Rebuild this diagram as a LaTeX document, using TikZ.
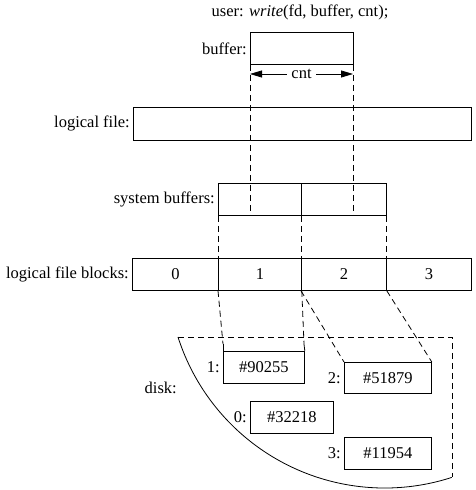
\documentclass[tikz,border=0pt]{standalone}
\usepackage{fontspec}
\setmainfont{Liberation Serif}
\usetikzlibrary{positioning,arrows.meta}

\tikzset{
  box/.style={draw, line width=0.8pt, inner sep=0pt, anchor=north west, minimum height=32pt},
  guide/.style={line width=0.8pt, dash pattern=on 6pt off 4pt},
  tag/.style={inner sep=3pt}
}

\begin{document}
\begin{tikzpicture}[x=1pt, y=1pt, >={Stealth[length=12pt,width=7pt,inset=0pt]},
    font=\fontsize{16.5}{19}\selectfont]
  \useasboundingbox (0,0) rectangle (475,490);

  % the call
  \node (call) at (300,478) {user: \textit{write}(fd, buffer, cnt);};

  % user buffer
  \node[box, minimum width=103pt] (buf) at (250,458) {};
  \node[tag, left=0pt of buf] (buflbl) {buffer:};
  \draw[<->, line width=0.8pt] (250,416) -- node[fill=white, inner sep=4pt] (cnt) {cnt} (353,416);

  % logical file
  \node[box, minimum width=338pt, minimum height=33pt] (lfile) at (133,383) {};
  \node[tag, left=0pt of lfile] (lfilelbl) {logical file:};

  % system buffers
  \node[box, minimum width=83pt] (sb1) at (218,307) {};
  \node[box, minimum width=85pt] (sb2) at (301,307) {};
  \node[tag, left=0pt of sb1] (sblbl) {system buffers:};

  % logical file blocks
  \node[box, minimum width=86pt] (b0) at (132,232) {0};
  \node[box, minimum width=83pt] (b1) at (218,232) {1};
  \node[box, minimum width=85pt] (b2) at (301,232) {2};
  \node[box, minimum width=85pt] (b3) at (386,232) {3};
  \node[tag, left=0pt of b0] (blklbl) {logical file blocks:};

  \draw[guide] (buf.south west) -- (buf.south west |- sb1.south);
  \draw[guide] (buf.south east) -- (buf.south east |- sb1.south);
  \draw[guide] (sb1.south west) -- (b1.north west);
  \draw[guide] (sb1.south east) -- (b1.north east);
  \draw[guide] (sb2.south east) -- (b2.north east);

  % disk
  \coordinate (dtl) at (178,153);
  \coordinate (dtr) at (452,153);
  \coordinate (dbr) at (452,13);
  \draw[guide] (dtl) -- (dtr) -- (dbr);
  \draw[line width=0.8pt] (dtl) arc[start angle=197.7, end angle=288, radius=217];
  \node[anchor=east, inner sep=0pt] (disk) at (177,102) {disk:};

  \node[box, minimum width=81pt] (d1) at (223,139) {\#90255};
  \node[box, minimum width=87pt, minimum height=31pt] (d2) at (344,128) {\#51879};
  \node[box, minimum width=83pt] (d0) at (250,89) {\#32218};
  \node[box, minimum width=87pt] (d3) at (344,53) {\#11954};
  \node[tag, left=0pt of d1] {1:};
  \node[tag, left=0pt of d2] {2:};
  \node[tag, left=0pt of d0] {0:};
  \node[tag, left=0pt of d3] {3:};

  \coordinate (d1l) at (223,146);
  \coordinate (d1r) at (304,146);
  \draw[line width=0.8pt] (d1.north west) -- (d1l);
  \draw[line width=0.8pt] (d1.north east) -- (d1r);
  \draw[guide] (b1.south west) -- (d1l);
  \draw[guide] (b1.south east) -- (d1r);
  \draw[guide] (b2.south west) -- (d2.north west);
  \draw[guide] (b2.south east) -- (d2.north east);
\end{tikzpicture}
\end{document}
